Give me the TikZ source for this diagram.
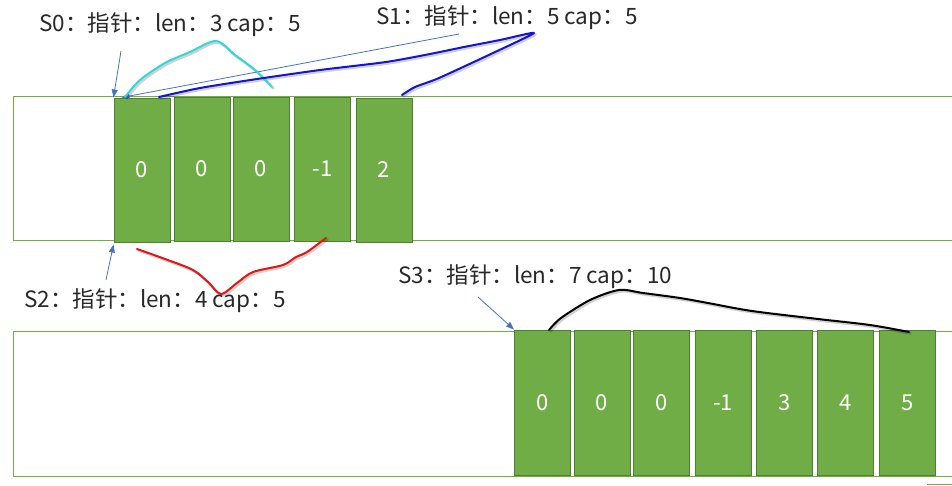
\documentclass[tikz,border=0pt]{standalone}
\usepackage{fontspec}
\setmainfont{Noto Sans CJK SC}
\usetikzlibrary{arrows.meta,calc}
\definecolor{cellfill}{HTML}{70AD47}
\definecolor{celledge}{HTML}{507E32}
\definecolor{frameline}{HTML}{70AD47}
\definecolor{arrowblue}{HTML}{4472C4}
\definecolor{pencyan}{RGB}{50,215,220}
\definecolor{penblue}{RGB}{20,20,215}
\definecolor{penred}{RGB}{230,20,20}
\definecolor{txt}{RGB}{40,40,40}
\begin{document}
\begin{tikzpicture}[x=1pt,y=-1pt,
  cellbox/.style={draw=celledge, fill=cellfill, line width=1pt, minimum width=56pt, minimum height=144pt, inner sep=0pt, text=white, font=\fontsize{22}{26}\selectfont},
  lbl/.style={anchor=west, inner sep=0pt, font=\fontsize{22.5}{26}\selectfont, text=txt},
  ptr/.style={draw=arrowblue, line width=0.8pt, -{Triangle[length=8pt,width=6pt]}},
  frame/.style={draw=frameline, line width=0.9pt},
  penstroke/.style={line width=2pt, line join=round, line cap=round},
  penshadow/.style={line width=2.6pt, line join=round, line cap=round, draw=black, opacity=0.18}]
\useasboundingbox (0,0) rectangle (952,485);
% frames
\draw[frame] (952,96) -- (13,96) -- (13,240) -- (952,240);
\draw[frame] (952,331) -- (13,331) -- (13,476) -- (952,476);
\draw[frame] (927,484) -- (952,484);
% top cells
\node[cellbox] (t1) at (142,170) {0};
\node[cellbox] (t2) at (202,169) {0};
\node[cellbox] (t3) at (261,169) {0};
\node[cellbox] (t4) at (322.5,169) {-1};
\node[cellbox] (t5) at (384,170) {2};
% bottom cells
\node[cellbox, minimum height=145pt] (b1) at (542.5,402.5) {0};
\node[cellbox, minimum height=145pt] (b2) at (602,402.5) {0};
\node[cellbox, minimum height=145pt] (b3) at (661.5,402.5) {0};
\node[cellbox, minimum height=145pt] (b4) at (723,402.5) {-1};
\node[cellbox, minimum height=145pt] (b5) at (784.5,402.5) {3};
\node[cellbox, minimum height=145pt] (b6) at (845.5,402.5) {4};
\node[cellbox, minimum height=145pt] (b7) at (907.5,402.5) {5};
% labels
\node[lbl] (s0) at (39,25) {S0：指针：len：3 cap：5};
\node[lbl] (s1) at (376,18) {S1：指针：len：5 cap：5};
\node[lbl] (s2) at (24,301) {S2：指针：len：4 cap：5};
\node[lbl] (s3) at (398,277) {S3：指针：len：7 cap：10};
% pointer arrows
\coordinate (s0from) at (121,51);
\coordinate (s1from) at (459,34);
\coordinate (s2from) at (106,280);
\coordinate (s3from) at (478,297);
\draw[ptr] (s0from) -- (t1.north west);
\draw[ptr] (s1from) -- ([xshift=8pt]t1.north west);
\draw[ptr] (s2from) -- ([yshift=-2pt]t1.south west);
\draw[ptr] (s3from) -- (b1.north west);
% freehand strokes: shadows
\begin{scope}[shift={(1.5,1.5)}]
\draw[penshadow] plot[smooth, tension=0.5] coordinates {(125,97) (140,80) (165,63) (190,52) (216,41) (235,55) (255,70) (272,87)};
\draw[penshadow] plot[smooth, tension=0.4] coordinates {(159,97) (200,88) (257,79) (320,70) (386,62) (430,54) (464,47) (500,40) (534,33) (493,53) (439,78) (415,87) (402,95)};
\draw[penshadow] plot[smooth, tension=0.5] coordinates {(137,249) (165,259) (193,270) (208,282) (221,294) (237,283) (253,272) (283,265) (296,257) (307,252) (326,238)};
\draw[penshadow] plot[smooth, tension=0.5] coordinates {(549,330) (561,318) (590,300) (619,290) (643,293) (680,298) (708,303) (752,311) (818,319) (870,325) (909,332)};
\end{scope}
% freehand strokes
\draw[penstroke, pencyan] plot[smooth, tension=0.5] coordinates {(125,97) (140,80) (165,63) (190,52) (216,41) (235,55) (255,70) (272,87)};
\draw[penstroke, penblue] plot[smooth, tension=0.4] coordinates {(159,97) (200,88) (257,79) (320,70) (386,62) (430,54) (464,47) (500,40) (534,33) (493,53) (439,78) (415,87) (402,95)};
\draw[penstroke, penred] plot[smooth, tension=0.5] coordinates {(137,249) (165,259) (193,270) (208,282) (221,294) (237,283) (253,272) (283,265) (296,257) (307,252) (326,238)};
\draw[penstroke, black] plot[smooth, tension=0.5] coordinates {(549,330) (561,318) (590,300) (619,290) (643,293) (680,298) (708,303) (752,311) (818,319) (870,325) (909,332)};
\end{tikzpicture}
\end{document}
